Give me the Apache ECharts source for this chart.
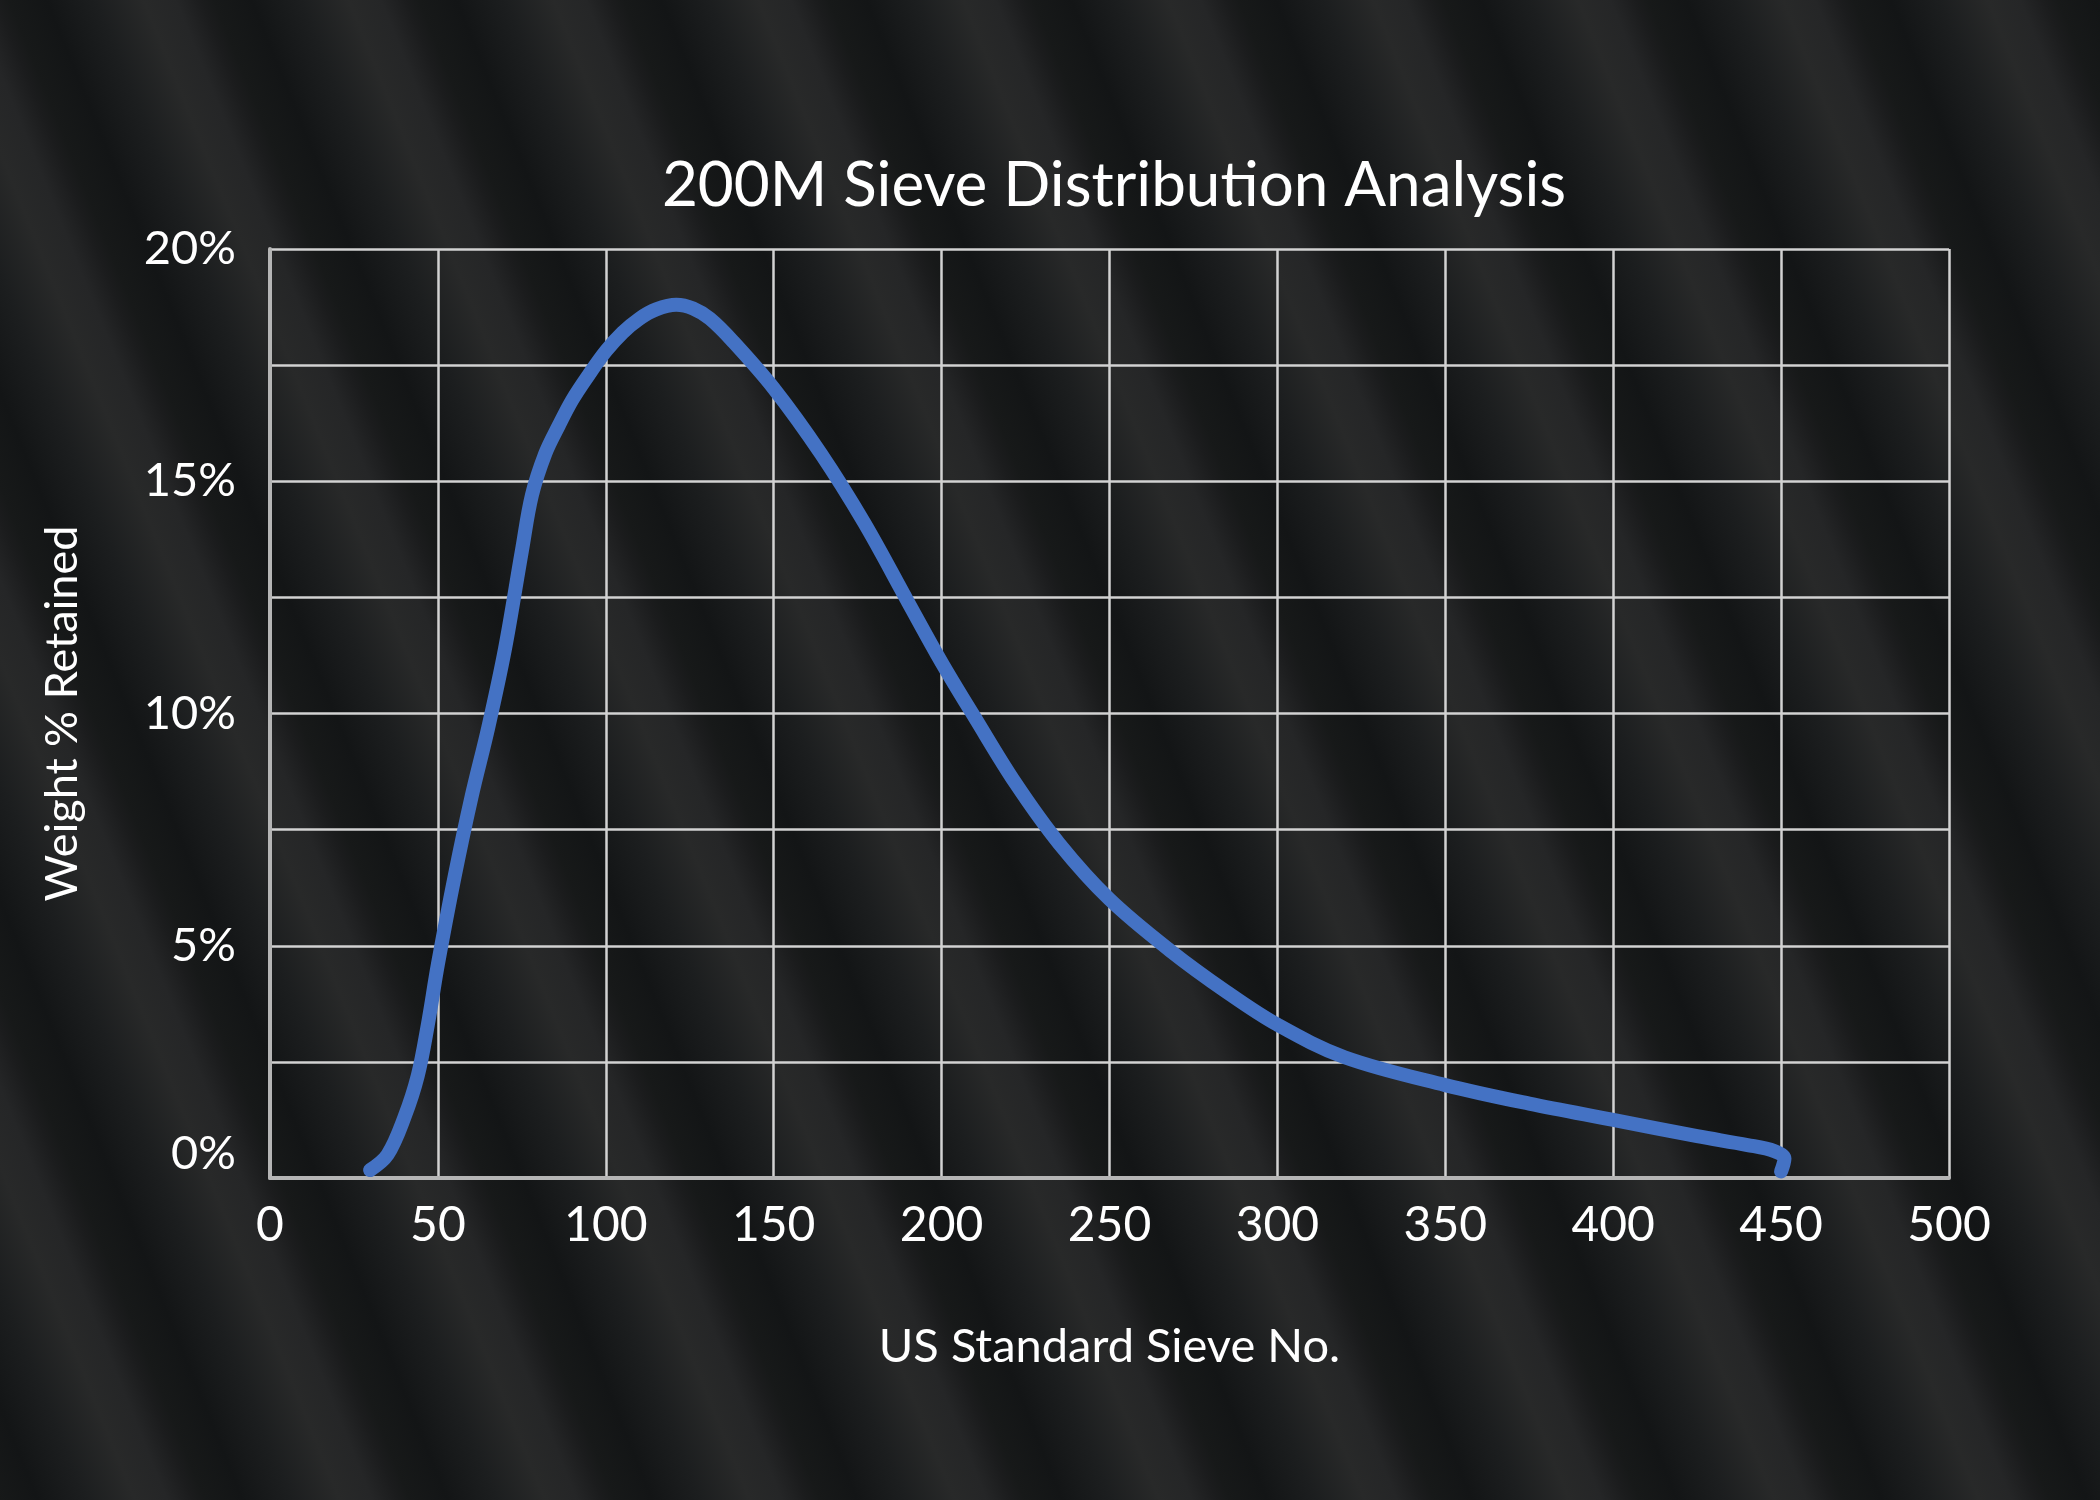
<!DOCTYPE html>
<html>
<head>
<meta charset="utf-8">
<script src="https://cdn.jsdelivr.net/npm/echarts@6/dist/echarts.min.js"></script>
<style>
html,body{margin:0;padding:0;width:2100px;height:1500px;overflow:hidden;}
body{
  background-color:#1f2021;
  background-image:repeating-linear-gradient(68deg,
    #171919 0px, #131516 35px, #1c1e1f 80px, #282929 125px, #252627 155px, #1b1c1d 178px, #171919 190px);
}
#chart{width:2100px;height:1500px;}
</style>
</head>
<body>
<div id="chart"></div>
<script>
const titleText = "200M Sieve Distribution Analysis";
const xAxisName = "US Standard Sieve No.";
const yAxisName = "Weight % Retained";
const sieveNo = [29.8, 35, 40, 44, 47, 50, 55, 60, 65, 70, 75, 78, 82, 86, 90, 95, 100, 105, 110, 115, 121, 126, 131, 138, 150, 164, 177, 190, 200, 210, 222, 235, 250, 268, 285, 300, 320, 350, 375, 400, 425, 440, 448, 451, 450];
const weightPct = [0.17, 0.5, 1.3, 2.2, 3.3, 4.6, 6.5, 8.2, 9.7, 11.4, 13.5, 14.7, 15.6, 16.2, 16.75, 17.3, 17.8, 18.2, 18.5, 18.7, 18.8, 18.72, 18.5, 18.0, 17.0, 15.6, 14.1, 12.4, 11.1, 9.9, 8.5, 7.2, 6.0, 4.9, 4.0, 3.3, 2.6, 2.0, 1.6, 1.25, 0.9, 0.71, 0.58, 0.42, 0.14];

const FONT = 'Lato, "Open Sans", sans-serif';
const chart = echarts.init(document.getElementById('chart'), null, {renderer:'canvas'});
chart.setOption({
  backgroundColor: 'transparent',
  animation: false,
  title: {
    text: titleText,
    left: 1109, top: 150, textAlign: 'center',
    textStyle: {color:'#ffffff', fontFamily: FONT, fontSize: 62, fontWeight: 'normal'}
  },
  grid: {left: 270, right: 151, top: 249, bottom: 322, containLabel: false},
  xAxis: {
    type: 'value', min: 0, max: 500, interval: 50,
    name: xAxisName, nameLocation: 'middle', nameGap: 145,
    nameTextStyle: {color:'#ffffff', fontFamily: FONT, fontSize: 47},
    axisLine: {show: true, lineStyle: {color:'#b5b5b5', width: 4}},
    axisTick: {show: false},
    axisLabel: {color:'#ffffff', fontFamily: FONT, fontSize: 48, margin: 24},
    splitLine: {show: true, lineStyle: {color:'#d2d2d2', width: 2.5}}
  },
  yAxis: {
    type: 'value', min: 0, max: 20, interval: 2.5,
    name: yAxisName, nameLocation: 'middle', nameGap: 185, nameRotate: 90,
    nameTextStyle: {color:'#ffffff', fontFamily: FONT, fontSize: 45},
    axisLine: {show: true, lineStyle: {color:'#b5b5b5', width: 4}},
    axisTick: {show: false},
    axisLabel: {
      color:'#ffffff', fontFamily: FONT, fontSize: 47, margin: 34,
      formatter: function(v){
        if (v % 5 !== 0) return '';
        if (v === 0) return '{z|0%}';
        return v + '%';
      },
      rich: {z: {color:'#ffffff', fontFamily: FONT, fontSize: 47, padding: [0,0,48,0]}}
    },
    splitLine: {show: true, lineStyle: {color:'#d2d2d2', width: 2.5}}
  },
  series: [{
    type: 'line',
    data: sieveNo.map((x,i)=>[x, weightPct[i]]),
    smooth: 0.35,
    showSymbol: false,
    lineStyle: {color:'#4472C4', width: 14, cap: 'round', join: 'round'},
    z: 5
  }]
});
</script>
</body>
</html>
